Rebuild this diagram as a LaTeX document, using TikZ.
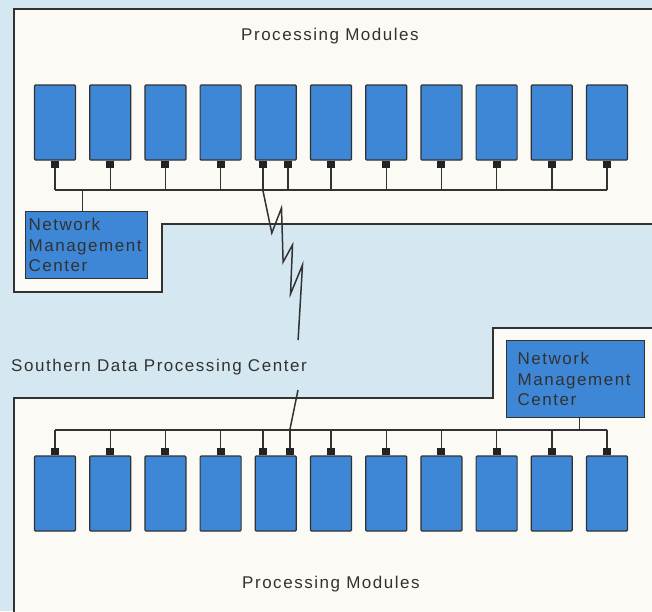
\documentclass[tikz,border=0pt]{standalone}
\usepackage{fontspec}
\setmainfont{Liberation Sans}[LetterSpace=9]
\usetikzlibrary{positioning}

\definecolor{paleblue}{RGB}{213,232,242}
\definecolor{sheet}{RGB}{251,250,245}
\definecolor{modblue}{RGB}{62,135,214}
\definecolor{ink}{RGB}{50,50,50}

\begin{document}
\begin{tikzpicture}[
    x=1pt, y=-1pt,
    panel/.style={draw=ink, line width=1.3pt, fill=sheet},
    module/.style={rectangle, rounded corners=1pt, minimum width=41pt, minimum height=75pt, inner sep=0pt, draw=ink, line width=1.2pt, fill=modblue},
    port/.style={rectangle, minimum width=8pt, minimum height=7pt, inner sep=0pt, fill=ink!70!black},
    nmc/.style={rectangle, text width=116pt, align=left, draw=ink, line width=1.2pt, fill=modblue, text=ink, font=\fontsize{17}{20.5}\selectfont},
    heading/.style={text=ink, font=\fontsize{17}{20}\selectfont, inner sep=0pt},
    link/.style={draw=ink, line width=1.4pt},
]

    % page and clipping
    \useasboundingbox (0,0) rectangle (652,611);
    \fill[paleblue] (0,0) rectangle (652,611);
    \clip (0,0) rectangle (652,611);

    % the two centers
    \draw[panel] (14,9) -- (665,9) -- (665,224) -- (162,224) -- (162,292) -- (14,292) -- cycle;
    \draw[panel] (14,398) -- (493,398) -- (493,328) -- (665,328) -- (665,620) -- (14,620) -- cycle;

    % processing modules
    \foreach \i in {1,...,11} {
        \node (t\i) [module] at ({55+55.2*(\i-1)}, 122.5) {};
        \node (b\i) [module] at ({55+55.2*(\i-1)}, 493.5) {};
    }

    % ports
    \foreach \i in {1,2,3,4,6,7,8,9,10,11} {
        \node (tp\i) [port, below=0pt of t\i] {};
        \node (bp\i) [port, above=0pt of b\i] {};
    }
    \node (tp5a) [port, below=0pt of t5, xshift=-13pt] {};
    \node (tp5b) [port, below=0pt of t5, xshift=12pt] {};
    \node (bp5a) [port, above=0pt of b5, xshift=-13pt] {};
    \node (bp5b) [port, above=0pt of b5, xshift=14pt] {};

    % buses
    \coordinate (tbus) at (0,190);
    \coordinate (bbus) at (0,430);
    \foreach \p in {1,2,3,4,5a,5b,6,7,8,9,10,11} {
        \draw[link] (tp\p.south) -- (tp\p.south |- tbus);
        \draw[link] (bp\p.north) -- (bp\p.north |- bbus);
    }
    \draw[link] (tp1.south |- tbus) -- (tp11.south |- tbus);
    \draw[link] (bp1.north |- bbus) -- (bp11.north |- bbus);

    % network management centers
    \node (tnmc) [nmc, inner xsep=3pt, minimum height=67pt, anchor=north west] at (25,211) {Network\\Management\\Center};
    \node (bnmc) [nmc, inner xsep=11pt, minimum height=77pt, anchor=north west] at (506,340) {Network\\Management\\Center};
    \draw[link] ([xshift=-4pt]tnmc.north |- tbus) -- ([xshift=-4pt]tnmc.north);
    \draw[link] ([xshift=4pt]bnmc.south) -- ([xshift=4pt]bnmc.south |- bbus);

    % remote link
    \draw[link, line width=1.5pt] (tp5a.south) -- (tp5a.south |- tbus) -- ++(9,43) -- ++(9.7,-25) -- ++(1.6,54)
        -- ++(9.4,-17) -- ++(-2,49) -- ++(12,-29) -- ++(-4.4,75) coordinate (gapin);
    \coordinate (gapout) at (298,390);
    \draw[link, line width=1.5pt] (gapout) -- (bp5b.north |- bbus);

    % labels
    \node (toptitle) [heading, anchor=base west] at (241,40) {Processing Modules};
    \node (sdpc) [heading, anchor=base west] at (11,371) {Southern Data Processing Center};
    \node (bottitle) [heading, anchor=base west] at (242,588) {Processing Modules};

\end{tikzpicture}
\end{document}
